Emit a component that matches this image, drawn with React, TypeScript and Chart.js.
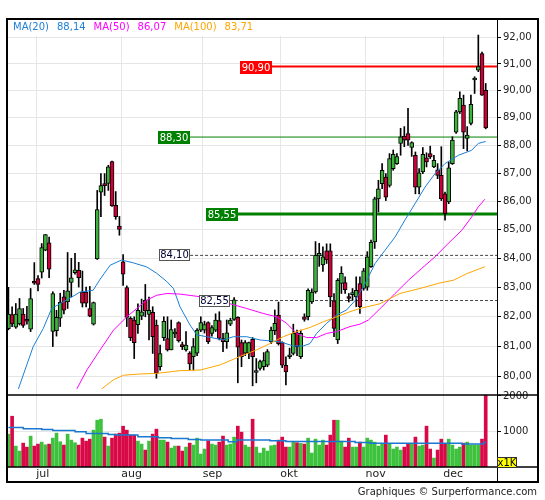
import React, { useEffect, useRef } from 'react';
import { Chart, registerables } from 'chart.js';

Chart.register(...registerables);

// ---- candle data (one per trading day, 19 Jun .. 17 Dec) ----
const opens = [
  81.60, 82.07, 81.65, 81.76, 82.09, 81.90, 81.58, 83.17, 83.30, 83.52,
  84.28, 84.54, 81.51, 81.53, 81.95, 82.68, 82.50, 83.17, 83.50, 83.58,
  82.84, 82.84, 82.28, 81.75, 83.98, 86.32, 86.57, 86.63, 87.41, 85.85,
  85.12, 83.88, 82.99, 81.95, 81.89, 81.73, 82.02, 82.56, 82.08, 82.15,
  81.72, 80.33, 81.30, 81.27, 80.89, 81.42, 81.80, 81.02, 80.89, 80.78,
  80.66, 80.78, 81.55, 81.55, 81.80, 81.44, 81.55, 81.87, 81.27, 81.16,
  81.75, 81.91, 81.98, 81.13, 80.78, 80.78, 81.24, 80.14, 80.27, 80.33,
  80.38, 81.16, 81.53, 82.06, 81.13, 80.38, 80.66, 80.77, 81.46, 80.66,
  82.00, 82.00, 82.50, 82.84, 84.08, 83.77, 84.26, 84.26, 82.54, 81.22,
  83.13, 83.16, 82.66, 82.75, 82.67, 83.13, 82.96, 83.01, 83.71, 84.57,
  86.08, 86.62, 86.86, 86.56, 87.16, 87.34, 88.07, 88.34, 88.43, 87.92,
  87.64, 86.50, 87.04, 87.55, 87.70, 87.22, 87.12, 86.92, 86.26, 85.97,
  87.34, 88.48, 89.22, 89.47, 88.25, 88.80, 90.40, 90.77, 91.39, 90.02,
];
const highs = [
  83.00, 82.34, 82.45, 82.62, 82.28, 82.35, 82.96, 83.85, 83.40, 84.51,
  84.83, 84.74, 82.85, 82.22, 82.80, 82.90, 84.20, 84.00, 84.17, 83.86,
  83.56, 83.01, 83.03, 82.50, 86.38, 86.98, 86.98, 87.28, 87.43, 86.34,
  85.46, 84.13, 83.05, 82.00, 82.00, 82.44, 82.60, 83.10, 82.67, 82.34,
  81.89, 81.05, 82.00, 82.00, 81.89, 81.60, 81.83, 81.15, 81.50, 80.83,
  81.27, 81.60, 82.00, 81.85, 81.83, 81.70, 82.10, 82.17, 81.44, 81.89,
  81.95, 82.65, 82.00, 81.22, 81.20, 81.15, 81.30, 80.60, 80.55, 80.80,
  80.90, 81.65, 82.23, 82.50, 81.16, 80.66, 80.95, 81.75, 81.55, 81.55,
  82.10, 82.95, 82.95, 84.58, 84.52, 84.40, 84.50, 84.50, 82.79, 83.30,
  83.71, 83.36, 82.79, 82.96, 83.36, 83.36, 83.65, 84.23, 84.63, 86.14,
  86.74, 87.34, 86.98, 87.70, 87.83, 87.70, 88.62, 88.68, 89.35, 88.13,
  87.76, 87.16, 87.92, 87.73, 87.97, 87.64, 87.34, 87.95, 86.32, 87.40,
  88.31, 89.28, 89.96, 89.84, 88.68, 89.84, 90.52, 92.09, 91.45, 90.27,
];
const lows = [
  81.56, 81.67, 81.61, 81.72, 81.64, 81.75, 81.50, 83.10, 82.88, 83.32,
  84.26, 83.33, 81.00, 81.35, 81.67, 82.10, 82.28, 82.67, 83.45, 83.01,
  82.33, 82.33, 82.00, 81.72, 83.96, 85.45, 86.20, 86.38, 85.81, 85.36,
  84.80, 83.07, 81.67, 81.20, 80.60, 81.44, 81.90, 82.00, 81.22, 80.77,
  79.95, 80.22, 81.20, 80.85, 80.89, 81.30, 81.15, 80.90, 80.85, 80.22,
  80.22, 80.70, 81.50, 81.45, 81.10, 81.35, 81.50, 81.22, 80.83, 80.94,
  81.70, 81.88, 79.80, 80.33, 80.70, 80.60, 79.70, 79.80, 80.22, 80.22,
  80.33, 81.10, 81.40, 81.05, 80.30, 79.73, 80.60, 80.72, 80.70, 80.60,
  81.85, 81.89, 82.45, 82.80, 83.72, 83.55, 83.82, 82.34, 81.33, 81.10,
  82.79, 82.79, 82.50, 82.56, 82.34, 82.11, 82.90, 82.90, 83.68, 84.34,
  85.62, 86.44, 86.02, 86.50, 87.10, 87.31, 87.64, 87.95, 88.00, 87.60,
  86.26, 86.26, 86.98, 87.22, 87.52, 87.19, 86.80, 86.02, 85.33, 85.91,
  87.31, 88.43, 89.16, 87.88, 87.80, 88.74, 89.90, 90.71, 89.83, 88.60,
];
const closes = [
  82.09, 81.76, 82.09, 82.28, 81.71, 81.85, 82.62, 83.14, 83.10, 84.37,
  84.82, 83.62, 82.79, 81.98, 82.50, 82.22, 82.88, 83.33, 83.60, 83.33,
  82.46, 82.46, 82.02, 82.48, 85.70, 86.55, 86.55, 87.22, 85.83, 85.45,
  85.00, 83.45, 81.98, 81.30, 81.13, 82.22, 82.17, 82.20, 82.22, 81.33,
  80.11, 80.77, 81.85, 80.89, 81.57, 81.46, 81.20, 81.00, 81.05, 80.42,
  81.00, 81.55, 81.80, 81.74, 81.16, 81.64, 81.89, 81.27, 81.16, 81.46,
  81.89, 82.57, 80.98, 80.66, 81.13, 81.13, 80.66, 80.18, 80.50, 80.53,
  80.83, 81.55, 81.78, 81.10, 80.38, 80.16, 80.72, 81.44, 81.00, 81.44,
  81.91, 82.90, 82.84, 84.10, 84.17, 84.05, 83.94, 82.67, 81.61, 83.24,
  83.48, 82.92, 82.62, 82.82, 82.90, 82.34, 83.57, 84.05, 84.55, 86.08,
  86.44, 87.10, 86.14, 87.52, 87.67, 87.59, 88.31, 88.19, 88.19, 88.10,
  86.50, 87.01, 87.67, 87.40, 87.58, 87.46, 86.92, 86.08, 85.56, 87.19,
  88.19, 89.22, 89.72, 88.48, 88.37, 89.50, 90.46, 90.90, 89.84, 88.63,
];
// volume in thousands
const volumes = [
  926, 1430, 589, 449, 673, 561, 870, 589, 645, 701,
  626, 645, 813, 954, 711, 617, 926, 757, 683, 617,
  813, 729, 785, 1038, 1318, 1346, 842, 589, 813, 926,
  954, 1150, 1038, 898, 898, 729, 645, 477, 729, 926,
  1066, 757, 757, 701, 533, 589, 589, 449, 561, 673,
  617, 813, 365, 505, 738, 645, 617, 701, 870, 617,
  645, 842, 1150, 982, 617, 561, 1346, 561, 393, 533,
  449, 598, 617, 757, 842, 561, 561, 701, 683, 664,
  645, 813, 393, 785, 617, 757, 617, 898, 1318, 1318,
  729, 561, 813, 561, 561, 701, 561, 813, 757, 701,
  589, 645, 898, 664, 505, 561, 477, 561, 664, 645,
  842, 589, 617, 1150, 505, 252, 477, 785, 645, 785,
  617, 505, 561, 673, 701, 617, 617, 617, 785, 2020,
];

// ---- moving averages (x = day index) ----
const ma20X = [2.7, 6.7, 9.4, 11.7, 13.9, 17.1, 19.4, 22.9, 24.8, 27.5, 30.6, 33.8, 37.4, 40.1, 42.8, 44.6, 46.4, 49.1, 50.9, 53.6, 58.1, 60.8, 64.4, 68.0, 73.4, 77.0, 79.7, 81.5, 83.3, 86.0, 88.7, 91.4, 93.7, 96.4, 99.1, 101.8, 104.5, 107.2, 109.9, 112.6, 115.3, 118.0, 121.6, 125.2, 127.0, 129.0];
const ma20Y = [79.6, 81.0, 81.6, 82.28, 82.44, 82.67, 82.84, 82.9, 83.28, 83.76, 83.94, 83.84, 83.70, 83.48, 83.20, 82.96, 82.33, 81.72, 81.39, 81.33, 81.22, 81.33, 81.33, 81.22, 81.16, 81.02, 81.02, 81.10, 81.44, 81.78, 82.06, 82.23, 82.55, 83.12, 83.82, 84.28, 84.74, 85.34, 85.91, 86.50, 86.98, 87.34, 87.64, 87.82, 88.07, 88.14];
const ma50X = [18.5, 21.2, 24.8, 28.4, 32.0, 34.7, 37.4, 40.1, 42.8, 46.4, 51.8, 55.4, 59.9, 64.4, 68.9, 72.5, 75.2, 77.9, 80.6, 83.3, 86.0, 88.7, 92.3, 95.0, 97.3, 100.9, 104.5, 108.1, 111.7, 115.3, 118.9, 122.5, 125.2, 127.0, 128.8];
const ma50Y = [79.6, 80.22, 80.89, 81.55, 82.00, 82.28, 82.57, 82.73, 82.79, 82.77, 82.68, 82.57, 82.44, 82.28, 82.11, 82.00, 81.78, 81.44, 81.30, 81.30, 81.44, 81.50, 81.67, 81.75, 81.89, 82.33, 82.79, 83.24, 83.65, 84.05, 84.52, 84.97, 85.44, 85.80, 86.07];
const ma100X = [25.2, 28.4, 31.1, 35.6, 40.1, 46.4, 51.8, 57.2, 62.6, 67.1, 70.7, 74.3, 77.9, 81.5, 85.1, 88.7, 92.3, 95.0, 100.4, 105.8, 111.2, 116.6, 120.2, 123.9, 128.8];
const ma100Y = [79.6, 79.9, 80.05, 80.09, 80.11, 80.20, 80.22, 80.39, 80.67, 80.89, 81.10, 81.33, 81.50, 81.64, 81.83, 82.00, 82.17, 82.28, 82.44, 82.79, 82.96, 83.15, 83.24, 83.47, 83.71];
const volMaX = [0, 4, 9, 12, 18, 21, 27, 29, 35, 40.5, 44, 48.6, 52, 59.4, 61.7, 70.7, 75, 93.7, 97.7, 122.5, 128.5, 129];
const volMaY = [1110, 1075, 1057, 1028, 990, 944, 916, 898, 851, 823, 804, 776, 757, 710, 757, 738, 720, 690, 670, 650, 700, 700];

// ---- levels, ticks, months ----
const levelValues = [90.90, 88.30, 85.55, 84.10, 82.55];
const levelStarts = [71.2, 49.1, 62.0, 49.1, 59.9];
const monthStarts = [7.5, 30.5, 52.5, 73.5, 96.5, 117.5];
const monthLabels = ['jul', 'aug', 'sep', 'okt', 'nov', 'dec'];
const priceTicks = [80, 81, 82, 83, 84, 85, 86, 87, 88, 89, 90, 91, 92];
const volTicks = [1000, 2000];

const FONT = '"DejaVu Sans", Verdana, sans-serif';
const GREEN = '#3cb43c';
const RED = '#cc0038';
const VGREEN = '#3ec23e';
const VRED = '#d90846';
const BLUE = '#1b7fd6';
const MAGENTA = '#ff00ff';
const ORANGE = '#ffa500';
const X_MIN = -0.38;
const X_MAX = 132.05;

const levelStyles = [
  { line: '#ff0000', width: 2, dash: [] as number[], bg: '#ff0000', fg: '#ffffff', border: '' },
  { line: '#008000', width: 1, dash: [] as number[], bg: '#008000', fg: '#ffffff', border: '' },
  { line: '#008000', width: 3, dash: [] as number[], bg: '#008000', fg: '#ffffff', border: '' },
  { line: '#444444', width: 1, dash: [3, 2], bg: '#ffffff', fg: '#000033', border: '#555555' },
  { line: '#444444', width: 1, dash: [3, 2], bg: '#ffffff', fg: '#000033', border: '#555555' },
];

const fmt = (v: number) => v.toFixed(2).replace('.', ',');

const decor = {
  id: 'decor',
  beforeDatasetsDraw(chart: any) {
    const ctx = chart.ctx;
    const a = chart.chartArea;
    ctx.save();
    ctx.fillStyle = '#ffffff';
    ctx.fillRect(a.left + 1, a.top + 1, a.right - a.left - 1, 16);
    ctx.restore();
  },
  afterDraw(chart: any) {
    const ctx = chart.ctx;
    const a = chart.chartArea;
    const ys = chart.scales.y;
    const yv = chart.scales.yv;
    const xs = chart.scales.x;
    ctx.save();
    ctx.font = '10px ' + FONT;
    ctx.textAlign = 'center';
    ctx.textBaseline = 'middle';
    levelValues.forEach((v, k) => {
      const st = levelStyles[k];
      const py = Math.round(ys.getPixelForValue(v));
      const right = Math.round(xs.getPixelForValue(levelStarts[k]));
      const w = st.border ? 31 : 32;
      const h = st.border ? 12 : 13;
      const left = right - w;
      const top = py - Math.floor(h / 2);
      ctx.fillStyle = st.bg;
      ctx.fillRect(left, top, w, h);
      if (st.border) {
        ctx.strokeStyle = st.border;
        ctx.lineWidth = 1;
        ctx.strokeRect(left + 0.5, top + 0.5, w - 1, h - 1);
      }
      ctx.fillStyle = st.fg;
      ctx.fillText(fmt(v), left + w / 2, top + h / 2 + 0.5);
    });
    ctx.textAlign = 'left';
    ctx.textBaseline = 'middle';
    let lx = 13;
    const items = [
      ['MA(20)', ma20Y[ma20Y.length - 1], BLUE],
      ['MA(50)', ma50Y[ma50Y.length - 1], MAGENTA],
      ['MA(100)', ma100Y[ma100Y.length - 1], ORANGE],
    ] as [string, number, string][];
    items.forEach(([name, val, col]) => {
      ctx.fillStyle = col;
      ctx.fillText(name, lx, 27);
      lx += ctx.measureText(name).width + 8;
      const t = fmt(val);
      ctx.fillText(t, lx, 27);
      lx += ctx.measureText(t).width + 8;
    });
    ctx.strokeStyle = '#000000';
    ctx.lineWidth = 2;
    ctx.strokeRect(7, a.top, 531, 463);
    ctx.lineWidth = 1.5;
    ctx.beginPath();
    ctx.moveTo(7, Math.round(yv.top));
    ctx.lineTo(538, Math.round(yv.top));
    ctx.moveTo(7, a.bottom);
    ctx.lineTo(538, a.bottom);
    ctx.stroke();
    ctx.lineWidth = 1;
    ctx.beginPath();
    ctx.moveTo(a.right + 0.5, a.top);
    ctx.lineTo(a.right + 0.5, 482);
    ctx.stroke();
    ctx.fillStyle = '#ffff00';
    ctx.fillRect(a.right, a.bottom - 10, 20, 11);
    ctx.strokeStyle = '#333333';
    ctx.strokeRect(a.right + 0.5, a.bottom - 9.5, 19, 10);
    ctx.fillStyle = '#000000';
    ctx.font = '10px ' + FONT;
    ctx.textAlign = 'center';
    ctx.fillText('x1K', a.right + 10, a.bottom - 4);
    ctx.fillStyle = '#222222';
    ctx.textAlign = 'right';
    ctx.fillText('Graphiques © Surperformance.com', 537, 492);
    ctx.restore();
  },
};

export default function App() {
  const ref = useRef<HTMLCanvasElement>(null);
  useEffect(() => {
    const canvas = ref.current;
    if (!canvas) return;
    const idx = opens.map((_, i) => i);
    const isUp = (i: number) => closes[i] >= opens[i];
    const line = (xs: number[], ys: number[]) => xs.map((x, k) => ({ x, y: ys[k] }));
    const datasets: any[] = [];
    levelValues.forEach((v, k) => {
      datasets.push({
        type: 'line',
        data: [{ x: levelStarts[k], y: v }, { x: X_MAX, y: v }],
        borderColor: levelStyles[k].line,
        borderWidth: levelStyles[k].width,
        borderDash: levelStyles[k].dash,
        pointRadius: 0,
        yAxisID: 'y',
        order: 6,
      });
    });
    datasets.push({
      type: 'bar',
      data: idx.map((i) => ({ x: i, y: [lows[i], highs[i]] })),
      backgroundColor: '#000000',
      barThickness: 1,
      grouped: false,
      yAxisID: 'y',
      order: 5,
    });
    datasets.push({
      type: 'bar',
      data: idx.map((i) => ({ x: i, y: [opens[i], closes[i]] })),
      backgroundColor: idx.map((i) => (isUp(i) ? GREEN : RED)),
      borderColor: '#000000',
      borderWidth: 1,
      borderSkipped: false,
      barThickness: 4,
      minBarLength: 2,
      grouped: false,
      yAxisID: 'y',
      order: 4,
    });
    [[ma100X, ma100Y, ORANGE], [ma50X, ma50Y, MAGENTA], [ma20X, ma20Y, BLUE]].forEach(([xs, ys, col]: any) => {
      datasets.push({
        type: 'line',
        data: line(xs, ys),
        borderColor: col,
        borderWidth: 1,
        pointRadius: 0,
        tension: 0,
        yAxisID: 'y',
        order: 2,
      });
    });
    datasets.push({
      type: 'bar',
      data: idx.map((i) => ({ x: i, y: volumes[i] })),
      backgroundColor: idx.map((i) => (isUp(i) ? VGREEN : VRED)),
      barThickness: 3,
      grouped: false,
      yAxisID: 'yv',
      order: 3,
    });
    datasets.push({
      type: 'line',
      data: line(volMaX, volMaY),
      borderColor: '#1a78d0',
      borderWidth: 1.5,
      pointRadius: 0,
      stepped: true,
      yAxisID: 'yv',
      order: 1,
    });

    const tickFont = { family: FONT, size: 10 };
    const chart = new Chart(canvas, {
      type: 'bar',
      data: { datasets },
      plugins: [decor],
      options: {
        animation: false,
        responsive: false,
        devicePixelRatio: 1,
        events: [],
        layout: { padding: { top: 19, left: 7, right: 0, bottom: 18 } },
        plugins: { legend: { display: false }, tooltip: { enabled: false } },
        scales: {
          x: {
            type: 'linear',
            position: 'bottom',
            offset: false,
            bounds: 'data',
            min: X_MIN,
            max: X_MAX,
            afterBuildTicks: (s: any) => {
              s.ticks = monthStarts.map((v) => ({ value: v }));
            },
            afterFit: (s: any) => {
              s.height = 15;
            },
            grid: { color: '#e6e6e6', drawTicks: false, offset: false },
            border: { display: false },
            ticks: {
              align: 'start',
              padding: 1,
              autoSkip: false,
              maxRotation: 0,
              color: '#222222',
              font: { family: FONT, size: 11 },
              callback: (_v: any, i: number) => monthLabels[i],
            },
          },
          y: {
            type: 'logarithmic',
            position: 'right',
            stack: 'p',
            stackWeight: 376,
            min: 79.4,
            max: 92.7,
            afterBuildTicks: (s: any) => {
              s.ticks = priceTicks.map((v) => ({ value: v }));
            },
            afterFit: (s: any) => {
              s.width = 48;
            },
            grid: { color: '#e6e6e6', tickColor: '#000000', tickLength: 4 },
            border: { display: false },
            ticks: {
              padding: 2,
              autoSkip: false,
              color: '#222222',
              font: tickFont,
              callback: (v: any) => fmt(Number(v)),
            },
          },
          yv: {
            type: 'linear',
            position: 'right',
            stack: 'p',
            stackWeight: 72,
            min: 0,
            max: 2028,
            afterBuildTicks: (s: any) => {
              s.ticks = volTicks.map((v) => ({ value: v }));
            },
            afterFit: (s: any) => {
              s.width = 48;
            },
            grid: {
              color: (c: any) => (c.tick && c.tick.value === 1000 ? '#e6e6e6' : 'rgba(0,0,0,0)'),
              tickColor: '#000000',
              tickLength: 4,
            },
            border: { display: false },
            ticks: {
              padding: 2,
              autoSkip: false,
              color: '#222222',
              font: tickFont,
              callback: (v: any) => String(v),
            },
          },
        },
      } as any,
    });
    return () => chart.destroy();
  }, []);
  return (
    <div style={{ position: 'absolute', left: 0, top: 0, width: 545, height: 500, background: '#ffffff' }}>
      <canvas ref={ref} width={545} height={500} style={{ width: 545, height: 500, display: 'block' }} />
    </div>
  );
}
